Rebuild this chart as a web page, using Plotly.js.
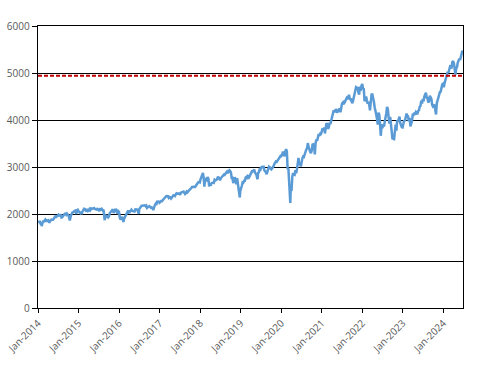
<!DOCTYPE html>
<html><head><meta charset="utf-8">
<script src="https://cdn.plot.ly/plotly-3.0.1.min.js"></script>
<style>html,body{margin:0;padding:0;background:#fff}#chart{width:480px;height:369px}</style>
</head><body><div id="chart"></div>
<script>
// First Friday of each year's weekly series
const yearStarts = ['2014-01-03','2015-01-02','2016-01-01','2017-01-06','2018-01-05','2019-01-04','2020-01-03','2021-01-01','2022-01-07','2023-01-06','2024-01-05'];
const y2014 = [1831,1842,1838,1790,1782,1797,1838,1836,1859,1878,1841,1866,1857,1865,1815,1864,1863,1881,1878,1878,1900,1924,1949,1936,1963,1961,1985,1967,1978,1978,1925,1931,1955,1988,2003,2007,1985,2010,1982,1967,1906,1887,1964,2018,2032,2039,2064,2067,2075,2002,2070,2088];
const y2015 = [2058,2045,2019,2051,1995,2055,2097,2110,2105,2071,2053,2108,2061,2067,2102,2081,2117,2108,2116,2123,2126,2107,2092,2094,2110,2102,2076,2077,2127,2080,2104,2078,2092,1971,1989,1921,1961,1958,1931,1951,2014,2033,2075,2079,2099,2023,2089,2090,2092,2012,2005,2061];
const y2016 = [2044,1922,1880,1907,1940,1880,1865,1918,1948,2000,2022,2050,2036,2073,2048,2081,2092,2065,2057,2047,2052,2099,2099,2096,2071,2037,2103,2130,2162,2175,2174,2183,2184,2184,2169,2180,2128,2139,2165,2168,2153,2133,2141,2126,2085,2164,2182,2213,2192,2260,2258,2263,2239];
const y2017 = [2277,2275,2271,2295,2297,2316,2351,2367,2383,2373,2378,2344,2363,2355,2329,2349,2384,2399,2391,2382,2416,2439,2432,2433,2438,2423,2425,2459,2473,2472,2477,2441,2426,2443,2477,2461,2500,2502,2519,2549,2553,2575,2581,2588,2582,2579,2602,2642,2652,2676,2683,2674];
const y2018 = [2743,2786,2810,2873,2762,2620,2732,2747,2691,2786,2752,2588,2641,2604,2656,2670,2670,2663,2728,2713,2721,2735,2779,2780,2755,2718,2760,2801,2802,2819,2840,2833,2850,2875,2902,2872,2905,2930,2914,2886,2767,2768,2658,2723,2781,2736,2633,2760,2633,2600,2417,2486];
const y2019 = [2532,2596,2671,2665,2707,2708,2776,2793,2804,2743,2822,2801,2834,2893,2907,2905,2940,2946,2881,2860,2826,2752,2873,2887,2950,2942,2990,3014,2977,3026,2932,2919,2889,2847,2926,2979,3007,2992,2962,2952,2970,2986,3023,3067,3093,3120,3110,3141,3146,3169,3221,3240];
const y2020 = [3235,3265,3330,3295,3226,3328,3380,3338,2954,2972,2711,2305,2541,2489,2790,2875,2837,2831,2930,2864,2955,3044,3194,3041,3098,3009,3130,3185,3225,3216,3271,3351,3373,3397,3508,3427,3341,3319,3298,3348,3477,3484,3465,3270,3510,3585,3558,3638,3699,3663,3709,3703];
const y2021 = [3756,3825,3768,3841,3714,3887,3934,3907,3811,3842,3943,3913,3975,4020,4129,4185,4180,4181,4233,4174,4156,4204,4230,4247,4166,4281,4352,4370,4327,4412,4395,4437,4468,4442,4509,4535,4459,4433,4455,4357,4391,4471,4545,4605,4697,4683,4698,4595,4538,4712,4620,4726,4766];
const y2022 = [4677,4663,4398,4432,4500,4419,4349,4385,4329,4204,4463,4543,4546,4488,4393,4272,4132,4123,4024,3901,4158,4109,3901,3675,3912,3825,3899,3863,3962,4130,4145,4280,4228,4058,3924,4067,3873,3693,3586,3640,3583,3753,3901,3771,3993,3965,4026,4072,3934,3852,3845,3840];
const y2023 = [3895,3999,3973,4071,4136,4090,4079,3970,4046,3862,3917,3971,4109,4105,4138,4133,4169,4136,4124,4192,4205,4282,4299,4410,4348,4450,4399,4505,4536,4582,4478,4464,4370,4406,4516,4457,4450,4320,4288,4309,4327,4224,4117,4358,4415,4514,4559,4595,4604,4719,4755,4770];
const y2024 = [4697,4784,4840,4891,4959,5027,5006,5089,5137,5124,5117,5234,5254,5204,5123,4967,5100,5128,5223,5303,5305,5278,5347,5432,5465,5460];
// Notable daily extremes between weekly closes
const extraDates  = ['2014-01-02','2014-02-03','2014-10-15','2015-08-25','2016-02-11','2016-06-27','2018-02-08','2018-12-24','2019-06-03','2020-03-23','2022-06-16','2022-10-12','2024-06-20'];
const extraValues = [1832,1742,1862,1867,1829,2001,2581,2351,2744,2237,3667,3577,5473];
const thresholdValue = 4940;
const yTicks = [0,1000,2000,3000,4000,5000,6000];

const yearly = [y2014,y2015,y2016,y2017,y2018,y2019,y2020,y2021,y2022,y2023,y2024];
let pts = [];
yearly.forEach((arr, i) => {
  const d0 = new Date(yearStarts[i] + 'T00:00:00Z');
  arr.forEach((v, k) => {
    const d = new Date(d0.getTime() + k * 7 * 86400000);
    pts.push([d.toISOString().slice(0,10), v]);
  });
});
extraDates.forEach((d, i) => pts.push([d, extraValues[i]]));
pts.sort((a, b) => a[0] < b[0] ? -1 : a[0] > b[0] ? 1 : 0);

const fontFam = '"Open Sans", "Noto Sans", sans-serif';
Plotly.newPlot('chart', [{
  x: pts.map(p => p[0]), y: pts.map(p => p[1]),
  type: 'scatter', mode: 'lines',
  line: {color: '#5B9BD5', width: 2.5},
  hoverinfo: 'skip'
}], {
  width: 480, height: 369,
  margin: {l: 38, r: 17, t: 26, b: 61},
  paper_bgcolor: '#fff', plot_bgcolor: '#fff',
  showlegend: false,
  font: {family: fontFam, size: 10, color: '#595959'},
  xaxis: {
    type: 'date', range: ['2014-01-01', '2024-06-26'],
    tick0: '2014-01-01', dtick: 'M12', tickformat: '%b-%Y', tickangle: -45,
    showgrid: false, showline: true, linecolor: '#000', linewidth: 1.3, mirror: true,
    ticks: 'outside', ticklen: 4, tickcolor: '#000',
    tickfont: {family: fontFam, size: 10, color: '#595959'}, zeroline: false
  },
  yaxis: {
    range: [0, 6000], tickvals: yTicks, ticktext: yTicks.map(String),
    showgrid: true, gridcolor: '#000', gridwidth: 1,
    showline: true, linecolor: '#000', linewidth: 1.3, mirror: true,
    ticks: 'outside', ticklen: 5, tickcolor: '#000',
    tickfont: {family: fontFam, size: 10, color: '#595959'}, zeroline: false
  },
  shapes: [{
    type: 'line', xref: 'paper', x0: 0, x1: 1, yref: 'y', y0: thresholdValue, y1: thresholdValue,
    line: {color: '#C00000', width: 2, dash: '4px,2px'}
  }]
}, {displayModeBar: false, staticPlot: true});
</script></body></html>
